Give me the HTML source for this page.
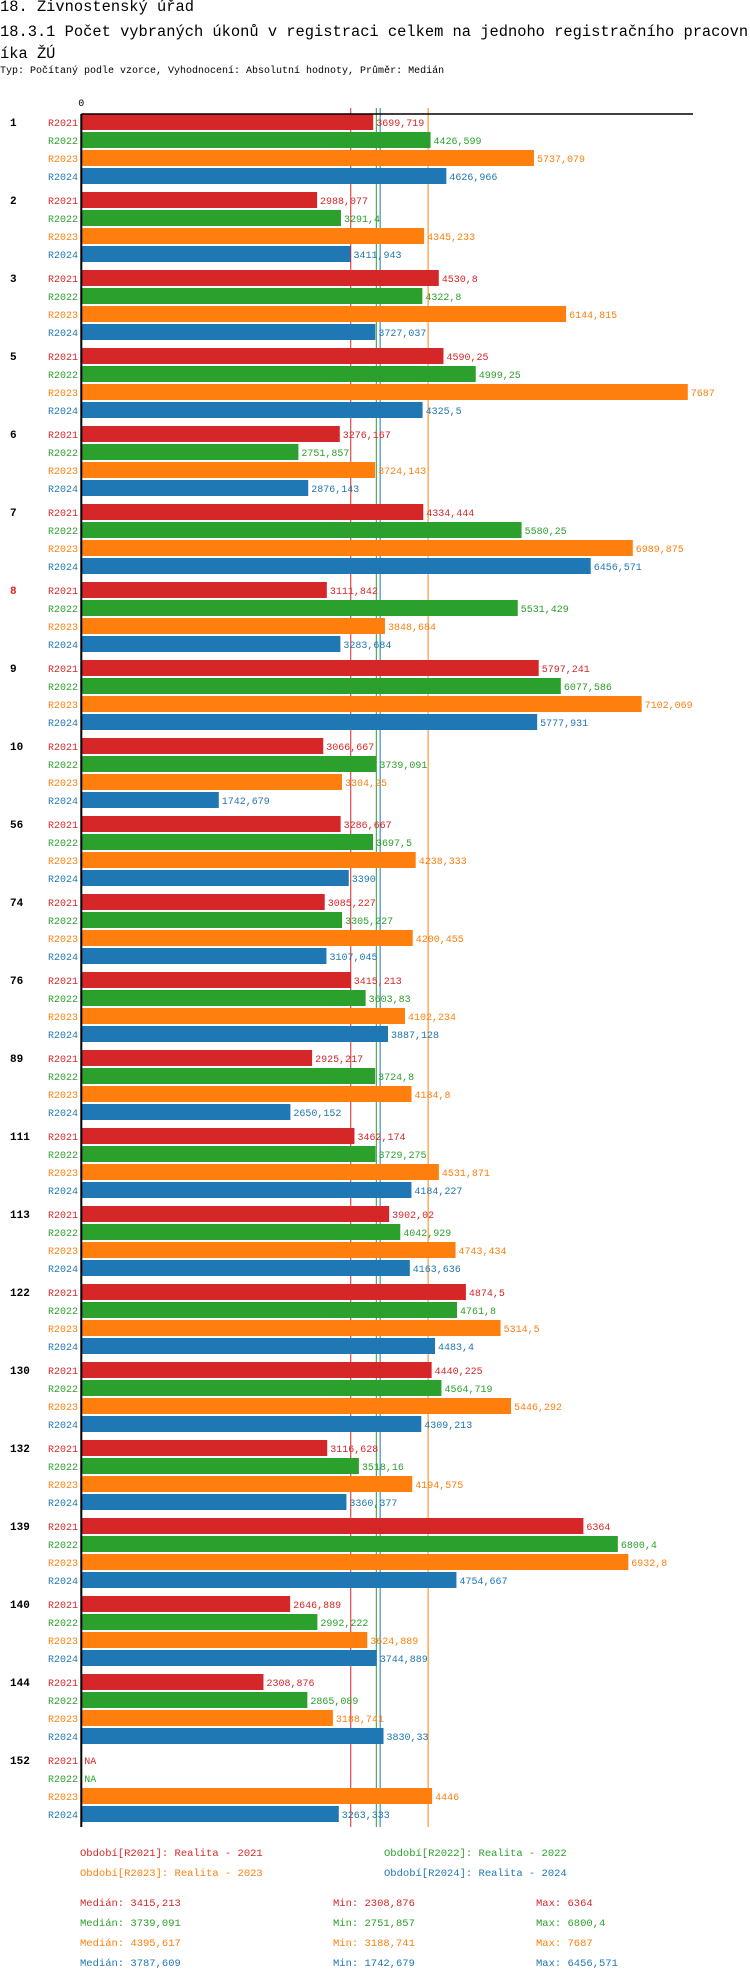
<!DOCTYPE html>
<html><head><meta charset="utf-8">
<style>
body{margin:0;background:#fff;width:750px;height:1980px;overflow:hidden;font-family:"Liberation Mono","DejaVu Sans Mono",monospace;}
.t{position:absolute;left:0;white-space:nowrap;color:#000;}
</style></head><body>
<div class="t" style="top:-2px;font-size:15.4px;line-height:18px;">18. Živnostenský úřad</div>
<div class="t" style="top:21px;font-size:15.4px;line-height:22px;white-space:normal;width:752px;word-break:break-all;">18.3.1 Počet vybraných úkonů v registraci celkem na jednoho registračního pracovníka ŽÚ</div>
<div class="t" style="top:66px;font-size:10px;">Typ: Počítaný podle vzorce, Vyhodnocení: Absolutní hodnoty, Průměr: Medián</div>
<svg id="chart" width="750" height="1980" style="position:absolute;left:0;top:0" font-family="Liberation Mono, DejaVu Sans Mono, monospace"></svg>
<script>
const groups=["1","2","3","5","6","7","8","9","10","56","74","76","89","111","113","122","130","132","139","140","144","152"];
const seriesNames=["R2021","R2022","R2023","R2024"];
const r2021=[3699.719,2988.077,4530.8,4590.25,3276.167,4334.444,3111.842,5797.241,3066.667,3286.667,3085.227,3415.213,2925.217,3462.174,3902.02,4874.5,4440.225,3116.628,6364,2646.889,2308.876,null];
const r2022=[4426.599,3291.4,4322.8,4999.25,2751.857,5580.25,5531.429,6077.586,3739.091,3697.5,3305.227,3603.83,3724.8,3729.275,4042.929,4761.8,4564.719,3518.16,6800.4,2992.222,2865.089,null];
const r2023=[5737.079,4345.233,6144.815,7687,3724.143,6989.875,3848.684,7102.069,3304.25,4238.333,4200.455,4102.234,4184.8,4531.871,4743.434,5314.5,5446.292,4194.575,6932.8,3624.889,3188.741,4446];
const r2024=[4626.966,3411.943,3727.037,4325.5,2876.143,6456.571,3283.684,5777.931,1742.679,3390,3107.045,3887.128,2650.152,4184.227,4163.636,4483.4,4309.213,3360.377,4754.667,3744.889,3830.33,3263.333];
const medians=[3415.213,3739.091,4395.617,3787.609];
const mins=[2308.876,2751.857,3188.741,1742.679];
const maxs=[6364,6800.4,7687,6456.571];
const legendText=["Období[R2021]: Realita - 2021","Období[R2022]: Realita - 2022","Období[R2023]: Realita - 2023","Období[R2024]: Realita - 2024"];
const series=[r2021,r2022,r2023,r2024];
const colors=["#d62728","#2ca02c","#ff7f0e","#1f77b4"];
const X0=81.3,K=0.0789,TOP=114,PITCH=78,ROW=18,BH=16;
const x=v=>X0+v*K;
const yRow=(g,s)=>TOP+g*PITCH+s*ROW;
const fmt=v=>String(v).replace('.',',');
const svg=document.getElementById('chart');
const NS="http://www.w3.org/2000/svg";
function mk(tag,attrs,txt){const e=document.createElementNS(NS,tag);for(const k in attrs)e.setAttribute(k,attrs[k]);if(txt!=null)e.textContent=txt;svg.appendChild(e);return e;}
const bottom=TOP+groups.length*PITCH-3;
medians.forEach((m,i)=>{const l=mk('line',{x1:x(m),x2:x(m),y1:108,y2:bottom,stroke:colors[i],'stroke-width':1});

});
groups.forEach((g,gi)=>{
  const gl=mk('text',{x:10,y:yRow(gi,0)+12,'font-size':11,'font-weight':'bold',fill:g==="8"?"#d62728":"#000"},g);
  
  
  series.forEach((arr,si)=>{
    const v=arr[gi],yy=yRow(gi,si);
    const sl=mk('text',{x:78,y:yy+12,'font-size':10,'text-anchor':'end',fill:colors[si]},seriesNames[si]);
    
    
    if(v==null){const na=mk('text',{x:X0+3,y:yy+12,'font-size':10,fill:colors[si]},'NA');
      
      return;}
    const r=mk('rect',{x:X0,y:yy,width:x(v)-X0,height:BH,fill:colors[si]});
    
    
    const vl=mk('text',{x:x(v)+3,y:yy+12,'font-size':10,fill:colors[si]},fmt(v));
    
    
  });
});
const ax=mk('line',{x1:X0,x2:693,y1:TOP,y2:TOP,stroke:'#000','stroke-width':1.5});


const ay=mk('line',{x1:X0,x2:X0,y1:TOP,y2:bottom,stroke:'#000','stroke-width':2});


const z=mk('text',{x:X0,y:106,'font-size':10,'text-anchor':'middle',fill:'#000'},'0');


const lx=[80,384,80,384],ly=[1856,1856,1876,1876];
legendText.forEach((t,i)=>{const e=mk('text',{x:lx[i],y:ly[i],'font-size':10.5,fill:colors[i]},t);

});
[0,1,2,3].forEach(i=>{const yy=1906+i*20;
 const a=mk('text',{x:80,y:yy,'font-size':10.5,fill:colors[i]},'Medián: '+fmt(medians[i]));
 
 const b=mk('text',{x:333,y:yy,'font-size':10.5,fill:colors[i]},'Min: '+fmt(mins[i]));
 
 const c=mk('text',{x:536,y:yy,'font-size':10.5,fill:colors[i]},'Max: '+fmt(maxs[i]));
 
});
</script>
</body></html>
